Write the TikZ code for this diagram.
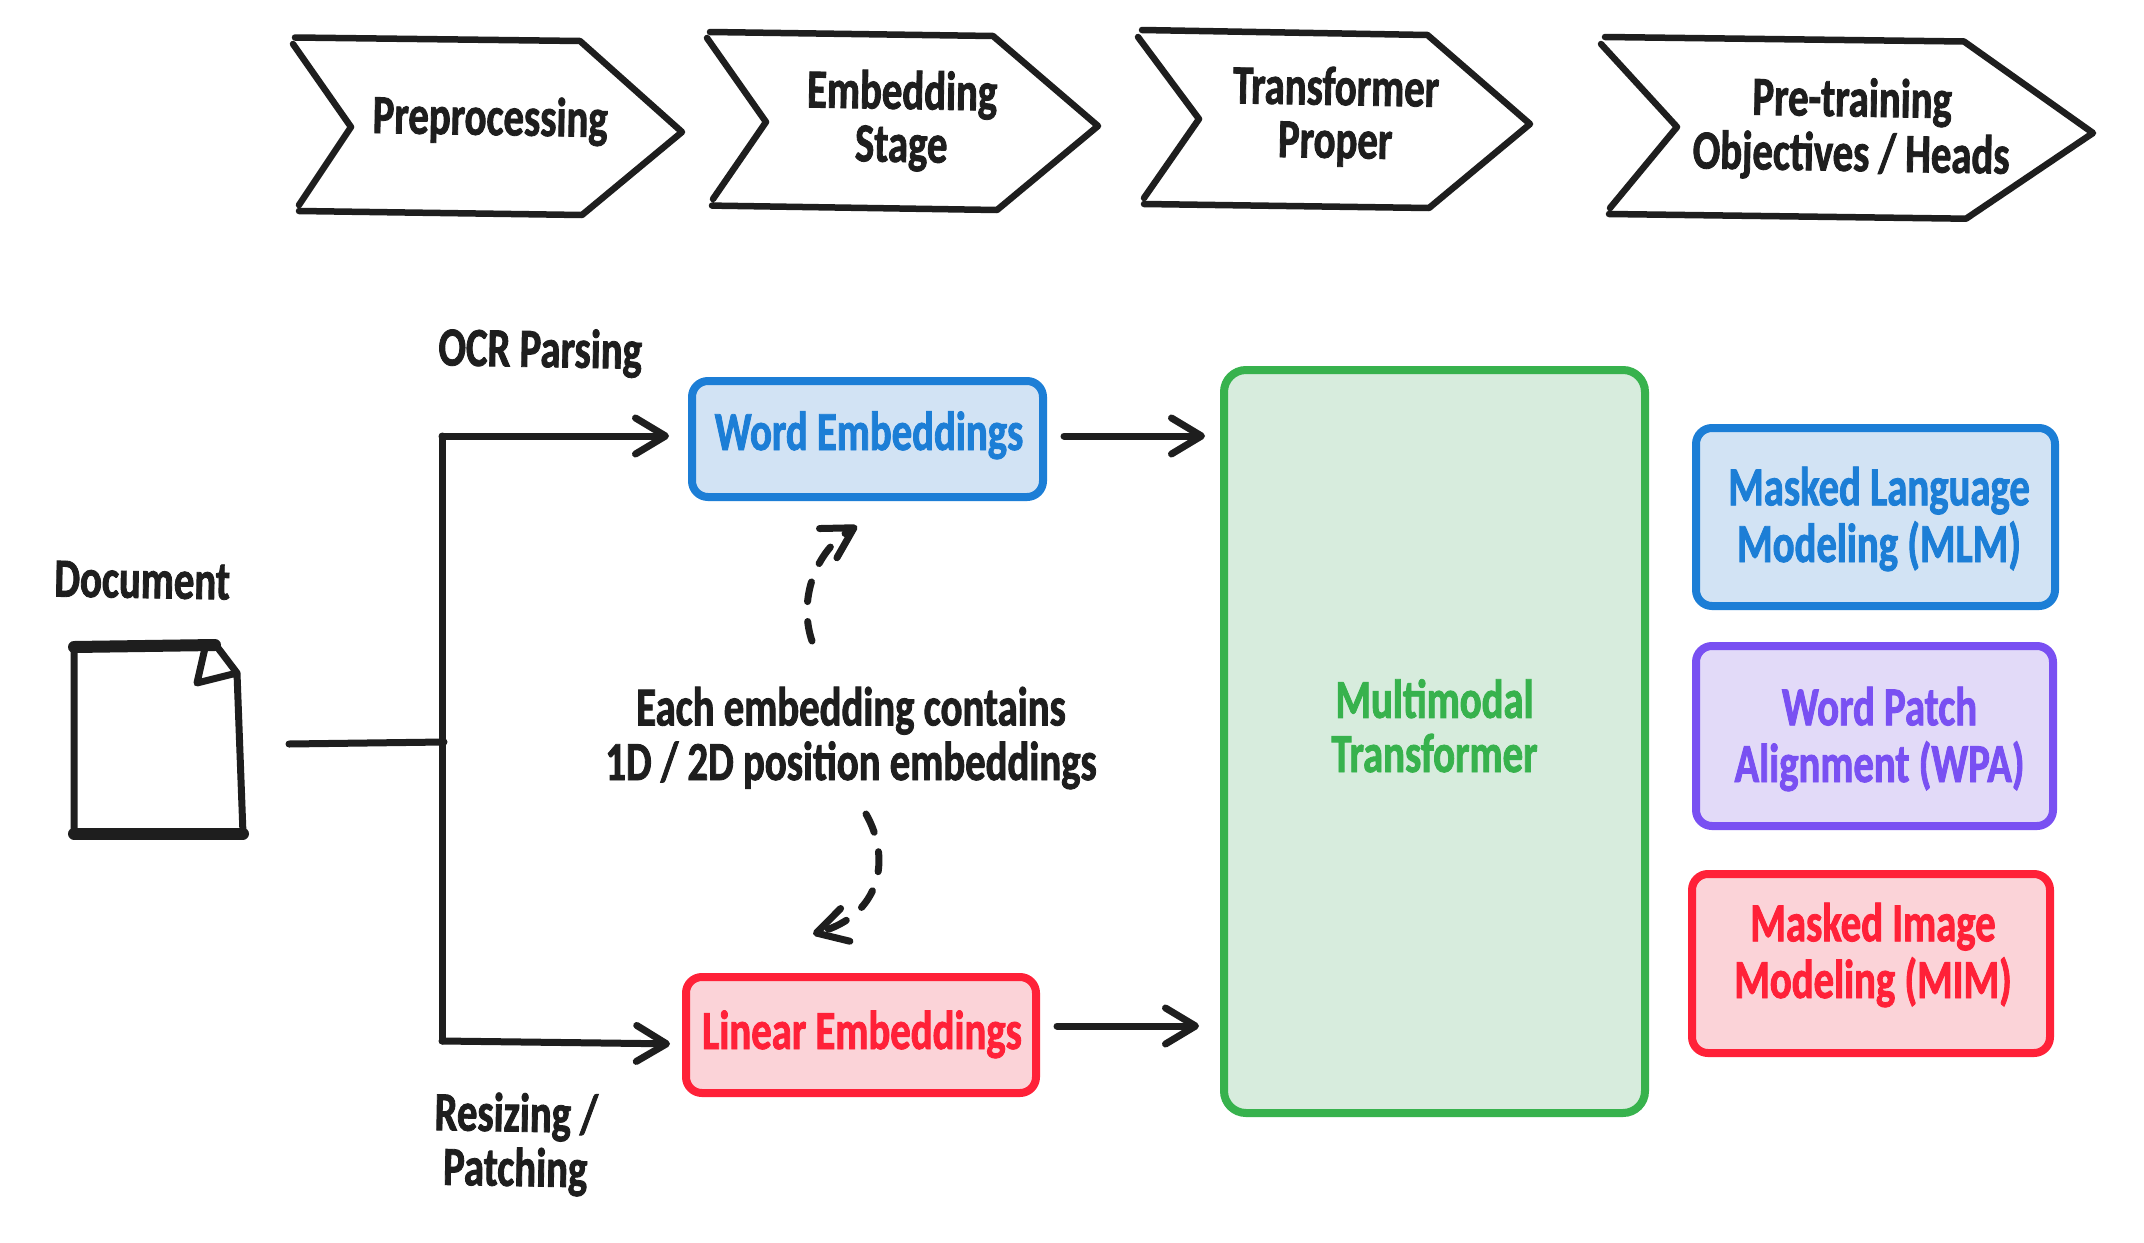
\documentclass[tikz,border=0pt]{standalone}
\usepackage{fontspec}
\usetikzlibrary{arrows.meta}
\newfontfamily\handfont{Carlito}[FakeStretch=0.74,FakeBold=1.5]
\definecolor{ink}{HTML}{1E1E1E}
\definecolor{bluestroke}{HTML}{1C7ED6}
\definecolor{bluefill}{HTML}{D2E3F4}
\definecolor{redstroke}{HTML}{FF2138}
\definecolor{redfill}{HTML}{FBD3D8}
\definecolor{greenstroke}{HTML}{37B24D}
\definecolor{greenfill}{HTML}{D7ECDD}
\definecolor{purplestroke}{HTML}{7950F2}
\definecolor{purplefill}{HTML}{E2DAF8}
% text whose last baseline sits #2 above the node centre, shifted #1 to the right
\newcommand{\lbl}[3]{\raisebox{\dimexpr#2pt-4pt\relax}[0pt][0pt]{\makebox[0pt]{\kern#1pt\kern#1pt\begin{tabular}[b]{@{}c@{}}#3\end{tabular}}}}
\tikzset{
  hand/.style={font=\fontsize{55}{53}\selectfont\bfseries\handfont},
  txt/.style={hand,text=ink,inner sep=0pt,outer sep=0pt},
  chev/.style={draw=ink,line width=6.5pt,line cap=round,line join=round},
  soft/.style={draw=#1stroke,fill=#1fill,text=#1stroke,hand,line width=8pt,rounded corners=16pt,inner sep=0pt},
  conn/.style={draw=ink,line width=7pt,line cap=round,line join=round},
  arr/.style={conn,-{Straight Barb[length=30pt,width=36pt,line cap=round,line join=round]}},
  dasharr/.style={draw=ink,line width=7pt,line cap=round,dash pattern=on 20pt off 20pt,-{Straight Barb[length=30pt,width=34pt,line cap=round,line join=round]}},
  docline/.style={draw=ink,line cap=round,line join=round}
}
\begin{document}
\begin{tikzpicture}[x=1pt,y=-1pt]
\useasboundingbox[fill=white] (0,0) rectangle (2144,1242);
% chevrons
\draw[chev] (295,37.5) -- (580,41) -- (682,132) -- (582,215) -- (299,211) (293,44) -- (351,127) -- (299,205);
\draw[chev] (710,32) -- (993,36) -- (1098,126) -- (997,210) -- (712,205.6) (707,38) -- (766,122) -- (713,199);
\draw[chev] (1142,30) -- (1427.5,35) -- (1530,124) -- (1429,208) -- (1144,204) (1138,37) -- (1199,119) -- (1144,198);
\draw[chev] (1605,37) -- (1964,41.5) -- (2093,133) -- (1966,218.7) -- (1609,214) (1601,44) -- (1677,127) -- (1610,208);
\node[txt,rotate=-1] (preproc) at (490,131) {\lbl{0}{0}{Preprocessing}};
\node[txt,rotate=-1] (embstage) at (901,158) {\lbl{0}{0}{Embedding\\Stage}};
\node[txt,rotate=-1] (transproper) at (1335,154) {\lbl{0}{0}{Transformer\\Proper}};
\node[txt,rotate=-1] (heads) at (1851,167) {\lbl{0}{0}{Pre-training\\Objectives / Heads}};
% document icon
\draw[docline,line width=12pt] (74,647) -- (215,645);
\draw[docline,line width=12pt] (74,833.5) -- (243,833.5);
\draw[docline,line width=7pt] (74,646) -- (74,833.5) (215,644) -- (237,673) -- (243,833.5) (205,648) -- (197,683) -- (237,673);
% labels
\node[txt,rotate=-1] (doclabel) at (142,594) {\lbl{0}{0}{Document}};
\node[txt,rotate=-1] (ocr) at (540,363) {\lbl{0}{0}{OCR Parsing}};
\node[txt,rotate=-1] (resize) at (515,1182) {\lbl{0}{0}{Resizing /\\Patching}};
% boxes
\node[soft=blue,minimum width=351pt,minimum height=116pt] (word) at (867.5,439) {\lbl{1.5}{-7}{Word Embeddings}};
\node[soft=red,minimum width=350pt,minimum height=116pt] (linear) at (861,1035) {\lbl{1}{-10}{Linear Embeddings}};
\node[soft=green,minimum width=421pt,minimum height=743pt,rounded corners=22pt] (mmt) at (1434.5,741.5) {\lbl{0}{-26.5}{Multimodal\\Transformer}};
\node[soft=blue,minimum width=359pt,minimum height=178pt] (mlm) at (1875.5,517) {\lbl{3.5}{-41}{Masked Language\\Modeling (MLM)}};
\node[soft=purple,minimum width=357pt,minimum height=180pt] (wpa) at (1874.5,736) {\lbl{5}{-42}{Word Patch\\Alignment (WPA)}};
\node[soft=red,minimum width=358pt,minimum height=179pt] (mim) at (1871,963.5) {\lbl{2}{-30.5}{Masked Image\\Modeling (MIM)}};
\node[txt] (note) at (851,776) {\lbl{0}{0}{Each embedding contains\\1D / 2D position embeddings}};
% connectors
\coordinate (docout) at (289,744);
\coordinate (trunktop) at (442,436);
\coordinate (trunkmid) at (444,742);
\coordinate (trunkbot) at (442,1041);
\coordinate (wordout) at ([yshift=3pt]word.east);
\coordinate (linout) at ([yshift=9pt]linear.east);
\draw[conn] (docout) -- (trunkmid);
\draw[conn] (trunktop) -- (trunkbot);
\draw[arr,shorten >=19pt] (trunktop) -- (word.west |- trunktop);
\draw[arr,shorten >=12pt] (trunkbot) -- ([yshift=-9pt]linear.west);
\draw[arr,shorten <=17pt,shorten >=15pt] (wordout) -- (mmt.west |- wordout);
\draw[arr,shorten <=17pt,shorten >=21pt] (linout) -- (mmt.west |- linout);
\coordinate (upstart) at (812,641);
\coordinate (uptip) at (857,526);
\coordinate (downstart) at (866,814);
\coordinate (downtip) at (813,934);
\draw[dasharr] (upstart) .. controls (798,600) and (815,551) .. (uptip);
\draw[dasharr] (downstart) .. controls (892,860) and (880,915) .. (downtip);
\end{tikzpicture}
\end{document}
